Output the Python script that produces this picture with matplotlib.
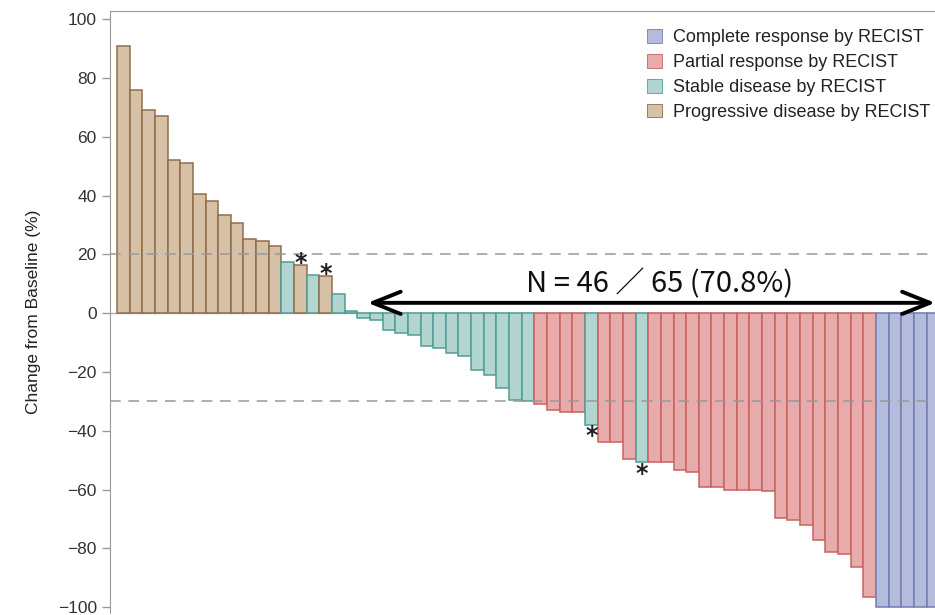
import matplotlib
matplotlib.use('Agg')
import matplotlib.pyplot as plt
from matplotlib.patches import Patch, FancyArrowPatch
import numpy as np

# Best % change from baseline, one bar per patient (sorted)
change = [91, 76, 69, 67, 52, 51, 40.5, 38.3, 33.4, 30.7, 25.2, 24.6, 22.9,
          17.5, 16.3, 13.0, 12.6, 6.5, 0.6,
          -1.5, -2.3, -5.7, -6.6, -7.3, -11.1, -11.8, -13.7, -14.5, -19.3,
          -21.0, -25.4, -29.7, -29.9,
          -30.9, -33.1, -33.7, -33.7, -38.0, -44.0, -44.0, -49.6, -50.7,
          -50.5, -50.5, -53.3, -53.9, -59.0, -59.0, -60.0, -60.0, -60.0,
          -60.4, -69.8, -70.3, -72.0, -77.3, -81.4, -81.9, -86.2, -96.7,
          -100, -100, -100, -100, -100]
response = (['PD'] * 13 + ['SD', 'PD', 'SD', 'PD', 'SD', 'SD'] + ['SD'] * 14
            + ['PR'] * 4 + ['SD'] + ['PR'] * 3 + ['SD'] + ['PR'] * 18
            + ['CR'] * 5)
starred = [14, 16, 37, 41]   # bars flagged with *
ref_lines = [20, -30]
yticks = [100, 80, 60, 40, 20, 0, -20, -40, -60, -80, -100]
n_text = 'N = 46 ／ 65 (70.8%)'

legend_order = ['CR', 'PR', 'SD', 'PD']
legend_text = {'CR': 'Complete response by RECIST',
               'PR': 'Partial response by RECIST',
               'SD': 'Stable disease by RECIST',
               'PD': 'Progressive disease by RECIST'}
fill = {'CR': '#b5bcdb', 'PR': '#e8abab', 'SD': '#b3d5d1', 'PD': '#d6c1a6'}
edge = {'CR': '#6f7fb6', 'PR': '#c8625f', 'SD': '#4f9e93', 'PD': '#8f6d4a'}

fig = plt.figure(figsize=(9.35, 6.15), dpi=100)
# axes run a bit past the right edge, like the cropped original
ax = fig.add_axes([110 / 935, 2 / 615, 835.5 / 935, 601.8 / 615])

x = np.arange(len(change))
ax.bar(x, change, width=1.0,
       color=[fill[r] for r in response],
       edgecolor=[edge[r] for r in response], linewidth=1.1, zorder=2)

ax.axhline(0, color='#aaaaaa', lw=1.0, zorder=1)
for y in ref_lines:
    ax.axhline(y, color='#999999', lw=1.1, ls=(0, (7, 5)), zorder=3)

# DejaVu's asterisk sits high in its box, hence the uneven offsets
for i in starred:
    v = change[i]
    off = 0.8 if v > 0 else -3.9
    ax.text(x[i], v + off, '*', ha='center', va='center', fontsize=17,
            fontweight='bold', color='#222222', zorder=4)

arrow = FancyArrowPatch((19.1, 3.5), (64.4, 3.5),
                        arrowstyle='<->,head_length=1.0,head_width=0.4',
                        mutation_scale=20, lw=2.8, color='black', zorder=5)
ax.add_patch(arrow)
ax.text(42.4, 10.0, n_text, ha='center', va='center', fontsize=21,
        family=['Noto Sans CJK JP', 'DejaVu Sans'], color='#111111')

ax.set_xlim(-1.05, 65.0)
ax.set_ylim(-102, 102.7)
ax.set_xticks([])
ax.set_yticks(yticks)
ax.set_yticklabels([str(t).replace('-', '−') for t in yticks],
                   family='Liberation Sans', fontsize=12.5, color='#333333')
ax.tick_params(axis='y', direction='out', length=6, width=1, color='#999999')
for s in ['left', 'top']:
    ax.spines[s].set_color('#999999')
for s in ['right', 'bottom']:
    ax.spines[s].set_visible(False)

ax.set_ylabel('Change from Baseline (%)', family='Liberation Sans',
              fontsize=12.5, color='#222222', labelpad=12)

handles = [Patch(facecolor=fill[k], edgecolor=edge[k], lw=0.6,
                 label=legend_text[k]) for k in legend_order]
fig.legend(handles=handles, loc='upper left',
           bbox_to_anchor=(631 / 935, 1 - 13 / 615), frameon=False,
           prop={'family': 'Liberation Sans', 'size': 13},
           handlelength=0.8, handleheight=0.8, handletextpad=0.6,
           labelspacing=0.42, labelcolor='#222222')

fig.savefig('out.png', dpi=100)
